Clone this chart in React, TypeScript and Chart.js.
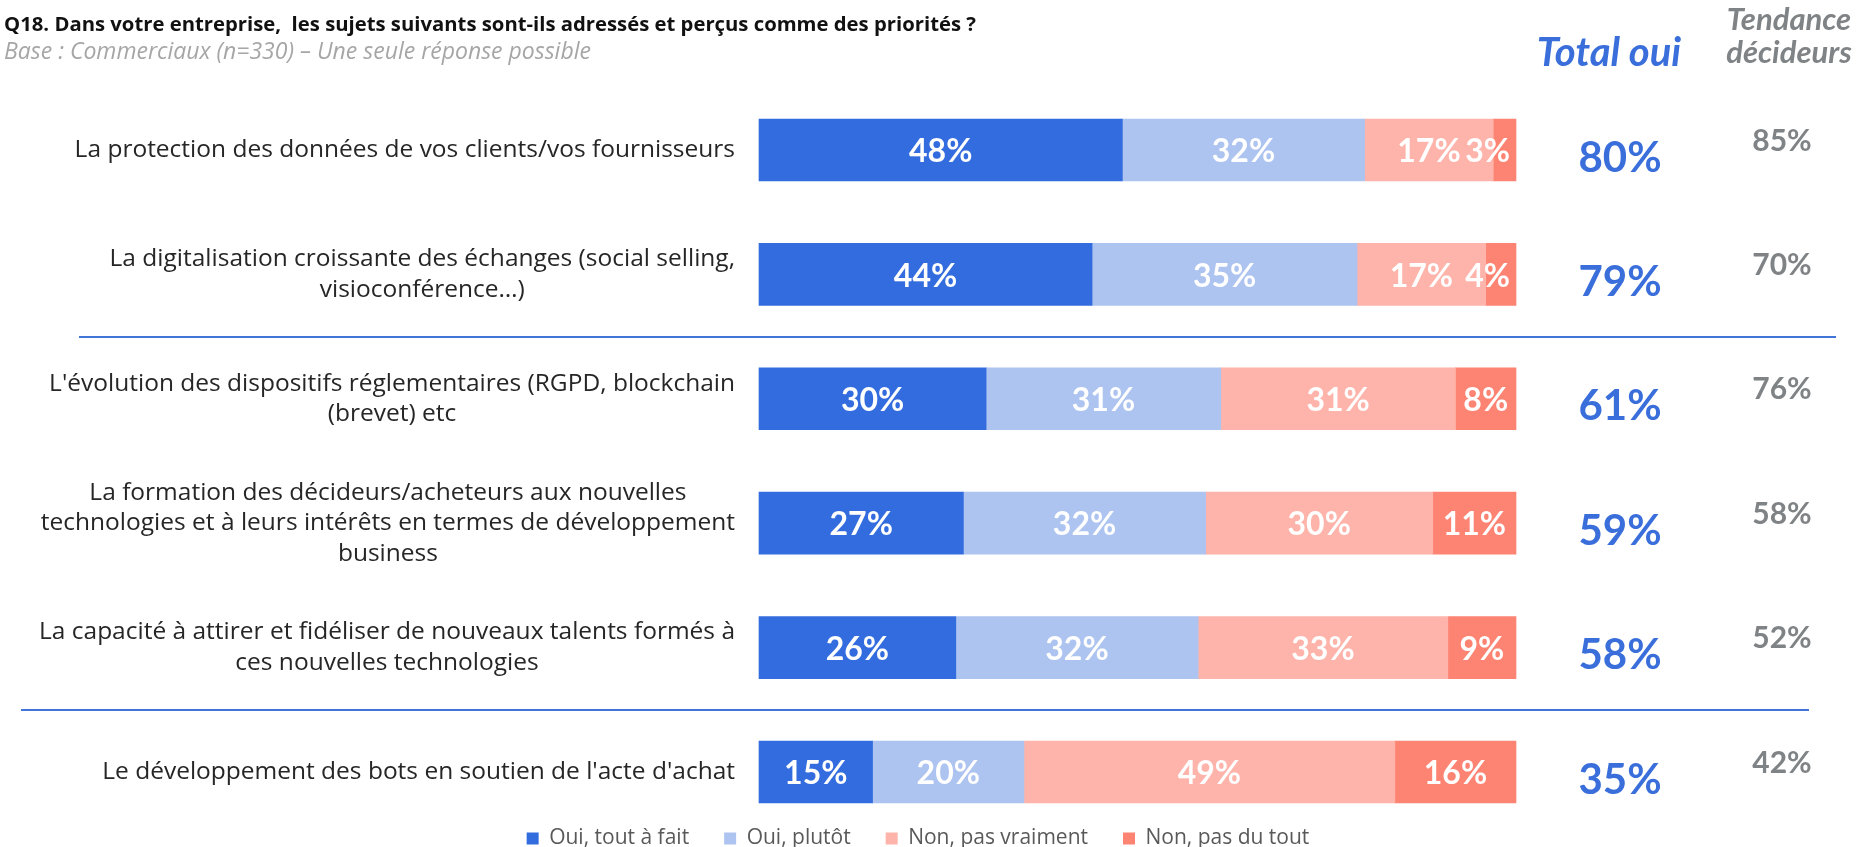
import React, { useEffect, useRef } from 'react';
import { Chart, registerables } from 'chart.js';

Chart.register(...registerables);

const chartTitle = 'Q18. Dans votre entreprise,  les sujets suivants sont-ils adressés et perçus comme des priorités ?';
const chartSubtitle = 'Base : Commerciaux (n=330) – Une seule réponse possible';

const categories: string[][] = [
  ['La protection des données de vos clients/vos fournisseurs'],
  ['La digitalisation croissante des échanges (social selling,', 'visioconférence…)'],
  ["L'évolution des dispositifs réglementaires (RGPD, blockchain", '(brevet) etc'],
  ['La formation des décideurs/acheteurs aux nouvelles', 'technologies et à leurs intérêts en termes de développement', 'business'],
  ['La capacité à attirer et fidéliser de nouveaux talents formés à', 'ces nouvelles technologies'],
  ["Le développement des bots en soutien de l'acte d'achat"],
];

const seriesNames = ['Oui, tout à fait', 'Oui, plutôt', 'Non, pas vraiment', 'Non, pas du tout'];
const ouiToutAFait = [48, 44, 30, 27, 26, 15];
const ouiPlutot = [32, 35, 31, 32, 32, 20];
const nonPasVraiment = [17, 17, 31, 30, 33, 49];
const nonPasDuTout = [3, 4, 8, 11, 9, 16];

const totalOuiHeader = 'Total oui';
const totalOui = [80, 79, 61, 59, 58, 35];
const tendanceHeader = ['Tendance', 'décideurs'];
const tendanceDecideurs = [85, 70, 76, 58, 52, 42];

const separatorsAfter = [1, 4];

const seriesColors = ['#336CDE', '#ADC3F0', '#FEB4AA', '#FD8373'];

const LABEL_FONT = '"Open Sans", sans-serif';
const NUM_FONT = 'Lato, sans-serif';

const customPlugin = {
  id: 'customDraw',
  afterDatasetsDraw(chart: any) {
    const ctx: CanvasRenderingContext2D = chart.ctx;
    const yScale = chart.scales.y;
    ctx.save();

    // bar value labels
    ctx.font = `bold 32px ${NUM_FONT}`;
    ctx.fillStyle = '#FFFFFF';
    ctx.textAlign = 'center';
    ctx.textBaseline = 'middle';
    chart.data.datasets.forEach((ds: any, di: number) => {
      const meta = chart.getDatasetMeta(di);
      meta.data.forEach((el: any, i: number) => {
        const v = ds.data[i];
        if (!v) return;
        const text = `${v}%`;
        const w = ctx.measureText(text).width;
        const left = Math.min(el.x, el.base);
        const right = Math.max(el.x, el.base);
        let cx = (left + right) / 2;
        if (w > right - left - 4) cx = right - 6 - w / 2;
        ctx.fillText(text, cx, el.y + 2);
      });
    });

    // category labels
    ctx.font = `24.5px ${LABEL_FONT}`;
    ctx.fillStyle = '#262626';
    ctx.textAlign = 'center';
    const lh = 30.5;
    const labelRight = yScale.right - 24;
    categories.forEach((lines, i) => {
      const yc = yScale.getPixelForValue(i);
      const widest = Math.max(...lines.map((l) => ctx.measureText(l).width));
      const cx = labelRight - widest / 2;
      lines.forEach((l, j) => {
        ctx.fillText(l, cx, yc + (j - (lines.length - 1) / 2) * lh);
      });
    });

    // separators
    const sepExtents = [
      [79, 1836],
      [21, 1809],
    ];
    ctx.strokeStyle = '#4176D8';
    ctx.lineWidth = 2;
    separatorsAfter.forEach((a, k) => {
      const y = Math.round((yScale.getPixelForValue(a) + yScale.getPixelForValue(a + 1)) / 2);
      ctx.beginPath();
      ctx.moveTo(sepExtents[k][0], y);
      ctx.lineTo(sepExtents[k][1], y);
      ctx.stroke();
    });

    // right columns
    ctx.textBaseline = 'middle';
    ctx.textAlign = 'center';
    totalOui.forEach((v, i) => {
      const yc = yScale.getPixelForValue(i);
      ctx.font = `bold 42px ${NUM_FONT}`;
      ctx.fillStyle = '#3A6FDB';
      ctx.fillText(`${v}%`, 1620, yc + 8);
    });
    tendanceDecideurs.forEach((v, i) => {
      const yc = yScale.getPixelForValue(i);
      ctx.font = `bold 30px ${NUM_FONT}`;
      ctx.fillStyle = '#7F8385';
      ctx.fillText(`${v}%`, 1782, yc - 9);
    });

    // headers
    ctx.textBaseline = 'alphabetic';
    ctx.font = `italic bold 40px ${NUM_FONT}`;
    ctx.fillStyle = '#3A6FDB';
    ctx.fillText(totalOuiHeader, 1609, 66);
    ctx.font = `italic bold 31px ${NUM_FONT}`;
    ctx.fillStyle = '#7F8385';
    ctx.fillText(tendanceHeader[0], 1789, 30);
    ctx.fillText(tendanceHeader[1], 1789, 63);

    ctx.restore();
  },
};

export default function App() {
  const canvasRef = useRef<HTMLCanvasElement | null>(null);

  useEffect(() => {
    let chart: Chart | null = null;
    let cancelled = false;
    const fontsToLoad = [
      `24px ${LABEL_FONT}`,
      `bold 20px ${LABEL_FONT}`,
      `italic 23px ${LABEL_FONT}`,
      `bold 32px ${NUM_FONT}`,
      `italic bold 38px ${NUM_FONT}`,
    ];
    const make = () => {
      if (cancelled || !canvasRef.current) return;
      const seriesData = [ouiToutAFait, ouiPlutot, nonPasVraiment, nonPasDuTout];
      chart = new Chart(canvasRef.current, {
        type: 'bar',
        data: {
          labels: categories.map((c) => c.join(' ')),
          datasets: seriesNames.map((name, k) => ({
            label: name,
            data: seriesData[k],
            backgroundColor: seriesColors[k],
            borderWidth: 0,
            barThickness: 62,
            clip: false as any,
            xAxisID: 'x',
            yAxisID: 'y',
          })),
        },
        options: {
          indexAxis: 'y',
          responsive: false,
          animation: false,
          events: [],
          layout: { padding: { left: 4, right: 28, top: 0, bottom: -12 } },
          scales: {
            x: {
              stacked: true,
              min: 0,
              max: 100,
              display: true,
              grid: { display: false },
              border: { display: false },
              ticks: { display: false },
              afterFit: (s: any) => {
                s.height = 21;
              },
            },
            y: {
              stacked: true,
              type: 'category',
              offset: false,
              grid: { display: false },
              border: { display: false },
              ticks: { display: false },
              afterFit: (s: any) => {
                s.width = 755;
              },
            },
            yRight: {
              type: 'category',
              position: 'right',
              offset: false,
              grid: { display: false },
              border: { display: false },
              ticks: { display: false },
              afterFit: (s: any) => {
                s.width = 316;
              },
            },
          } as any,
          plugins: {
            title: {
              display: true,
              text: chartTitle,
              align: 'start',
              color: '#111111',
              font: { family: LABEL_FONT, size: 20.3, weight: 'bold' },
              padding: { top: 13, bottom: 0 },
            },
            subtitle: {
              display: true,
              text: chartSubtitle,
              align: 'start',
              color: '#A6A6A6',
              font: { family: LABEL_FONT, size: 23, style: 'italic' },
              padding: { top: 1, bottom: 84 },
            },
            legend: {
              display: true,
              position: 'bottom',
              labels: {
                boxWidth: 12,
                boxHeight: 12,
                padding: 35,
                color: '#595959',
                font: { family: LABEL_FONT, size: 21 },
              },
            },
            tooltip: { enabled: false },
          },
        },
        plugins: [customPlugin],
      });
    };
    const fs: any = (document as any).fonts;
    if (fs && fs.load) {
      Promise.all(fontsToLoad.map((f) => fs.load(f).catch(() => null))).then(make, make);
    } else {
      make();
    }
    return () => {
      cancelled = true;
      if (chart) chart.destroy();
    };
  }, []);

  return (
    <div style={{ position: 'fixed', left: 0, top: 0, width: 1860, height: 847, background: '#fff' }}>
      <canvas ref={canvasRef} width={1860} height={847} style={{ display: 'block', width: 1860, height: 847 }} />
    </div>
  );
}
